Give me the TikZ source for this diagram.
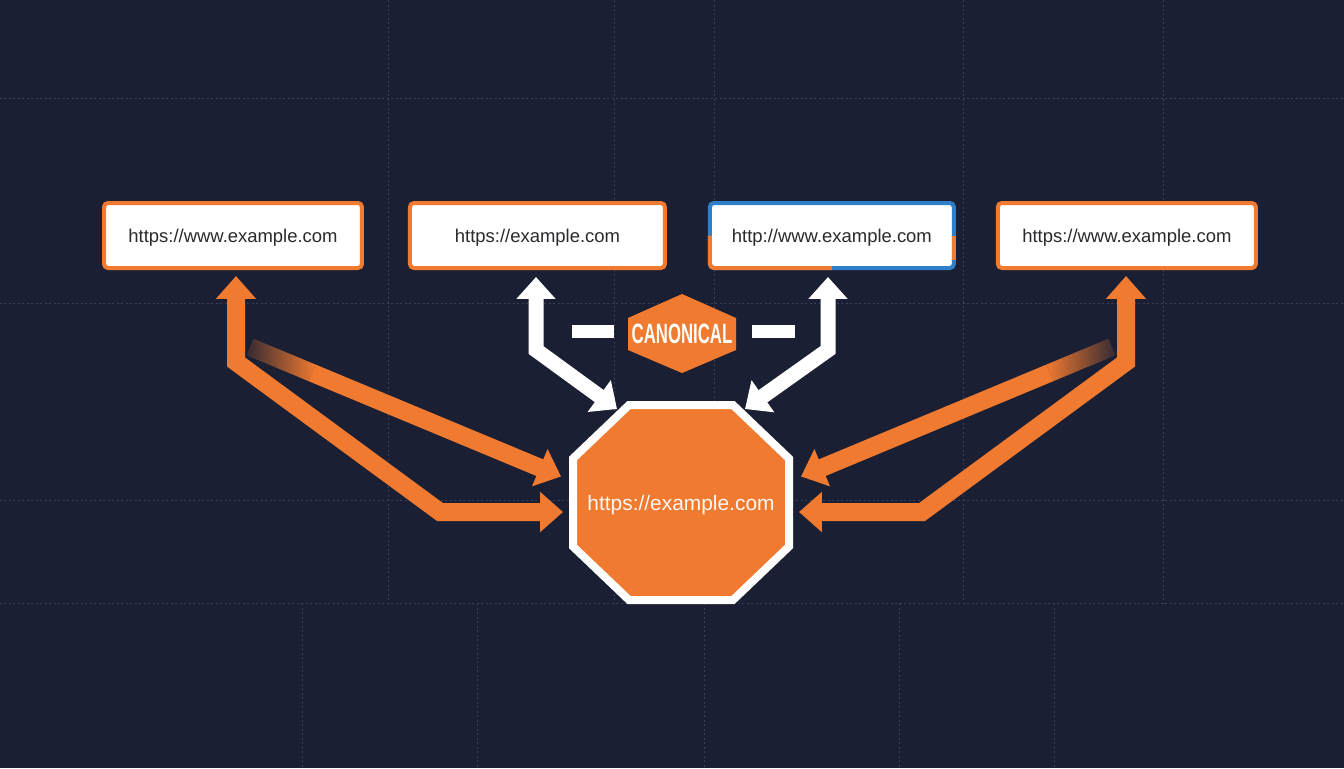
\documentclass[tikz,border=0pt]{standalone}
\usepackage{fontspec}
\setmainfont{Liberation Sans}
\newfontfamily\condfont[FakeStretch=0.6]{Liberation Sans}
\usepackage{tikz}
\usetikzlibrary{arrows.meta,positioning,calc,backgrounds}
\definecolor{bgnavy}{RGB}{27,31,51}
\definecolor{gridline}{RGB}{58,64,88}
\definecolor{accent}{RGB}{240,122,48}
\definecolor{linkblue}{RGB}{47,128,200}
\definecolor{inktext}{RGB}{42,42,46}
\definecolor{offwhite}{RGB}{252,248,244}

\begin{document}
\begin{tikzpicture}[
    x=0.02cm, y=-0.02cm,
    url/.style={rectangle, draw=accent, fill=white, line width=0.08cm, rounded corners=0.08cm,
                minimum width=5.16cm, minimum height=1.3cm, outer sep=0pt, inner sep=0pt,
                text depth=0pt, font=\fontsize{10.5}{12}\selectfont, text=inktext},
    hub/.style={rectangle, minimum width=4.48cm, minimum height=4.06cm, outer sep=0pt,
                inner sep=0pt, text depth=0pt, text=offwhite, font=\fontsize{11.9}{14}\selectfont},
    tag/.style={rectangle, minimum width=2.16cm, minimum height=1.58cm, outer sep=0pt,
                inner sep=0pt, text=white, font=\condfont\bfseries\fontsize{15.9}{18}\selectfont},
    octo/.style={fill=accent, draw=white, line width=0.16cm, line join=miter},
    hexa/.style={fill=accent},
    bar/.style={white, line width=0.26cm},
    grid line/.style={gridline, line width=0.5pt, dash pattern=on 0.04cm off 0.05cm},
    duo/.style={accent, line width=0.36cm, line join=miter,
                {Triangle[width=0.78cm,length=0.46cm]}-{Triangle[width=0.78cm,length=0.46cm]}},
    duow/.style={white, line width=0.30cm, line join=miter,
                {Triangle[width=0.76cm,length=0.44cm]}-{Triangle[width=0.76cm,length=0.44cm]}},
    single/.style={accent, line width=0.36cm, -{Triangle[width=0.78cm,length=0.46cm]}}
]
\useasboundingbox (0,0) rectangle (1344,768);

% url variants
\node[url] (url1) at (233,235.5) {https://www.example.com};
\node[url, minimum width=5.10cm, right=0.96cm of url1] (url2) {https://example.com};
\node[url, minimum width=4.88cm, draw=linkblue, right=0.90cm of url2] (url3) {http://www.example.com};
\node[url, right=0.88cm of url3] (url4) {https://www.example.com};
\draw[accent, line width=0.08cm, rounded corners=0.08cm] (url3.west) -- (url3.south west) -- (url3.south);
\draw[accent, line width=0.08cm] (url3.east) -- ([yshift=-0.48cm]url3.east);

% canonical target
\node[hub] (hub) at (681,502.5) {https://example.com};
\node[tag] (canon) at (682,333.5) {CANONICAL};

\begin{scope}[on background layer]
  \fill[bgnavy] (0,0) rectangle (1344,768);
  \foreach \gx in {388,614,714,963,1163}
    \draw[grid line] (\gx,0) -- (\gx,603);
  \foreach \gx in {302,477,704,899,1054}
    \draw[grid line] (\gx,603) -- (\gx,768);
  \foreach \gy in {98,303,500,603}
    \draw[grid line] (0,\gy) -- (1344,\gy);
  \draw[octo, shift={(hub.center)}] (-52,-97.5) -- (52,-97.5) -- (108,-44) -- (108,44)
    -- (52,97.5) -- (-52,97.5) -- (-108,44) -- (-108,-44) -- cycle;
  \fill[hexa, shift={(canon.center)}] (0,-39.5) -- (54,-15.5) -- (54,16.5) -- (0,39.5)
    -- (-54,16.5) -- (-54,-15.5) -- cycle;
\end{scope}

\draw[bar] ([xshift=-0.28cm, yshift=0.04cm]canon.west) -- ([xshift=-1.12cm, yshift=0.04cm]canon.west);
\draw[bar] ([xshift=0.32cm, yshift=0.04cm]canon.east) -- ([xshift=1.18cm, yshift=0.04cm]canon.east);

% bends
\coordinate (lb) at (236,362);
\coordinate (lk) at (440,512);
\coordinate (rb) at (1126,362);
\coordinate (rk) at (922,512);
\coordinate (wl) at (536,350);
\coordinate (wr) at (828,350);
\coordinate (wle) at (617,409);
\coordinate (wre) at (745,409);
\coordinate (lf) at (250,347);
\coordinate (rf) at (1112,347);
\coordinate (lt) at ($(hub.west)+(-8,-26)$);
\coordinate (rt) at ($(hub.east)+(8,-26)$);
\coordinate (lm) at ($(lf)!0.2!(lt)$);
\coordinate (rm) at ($(rf)!0.2!(rt)$);

\draw[duo, shorten <=0.16cm, shorten >=0.12cm] (url1.south -| lb) -- (lb) -- (lk) -- (lk -| hub.west);
\draw[duo, shorten <=0.16cm, shorten >=0.12cm] (url4.south -| rb) -- (rb) -- (rk) -- (rk -| hub.east);
\draw[duow, shorten <=0.18cm] (url2.south -| wl) -- (wl) -- (wle);
\draw[duow, shorten <=0.18cm] (url3.south -| wr) -- (wr) -- (wre);

% faded start of the upper branches
\shade[left color=accent!12!bgnavy, right color=accent]
  ($(lf)!0.18cm!90:(lt)$) -- ($(lm)!0.18cm!-90:(lf)$) -- ($(lm)!0.18cm!90:(lf)$)
  -- ($(lf)!0.18cm!-90:(lt)$) -- cycle;
\shade[left color=accent, right color=accent!12!bgnavy]
  ($(rf)!0.18cm!90:(rt)$) -- ($(rm)!0.18cm!-90:(rf)$) -- ($(rm)!0.18cm!90:(rf)$)
  -- ($(rf)!0.18cm!-90:(rt)$) -- cycle;
\draw[single] (lm) -- (lt);
\draw[single] (rm) -- (rt);
\end{tikzpicture}
\end{document}
